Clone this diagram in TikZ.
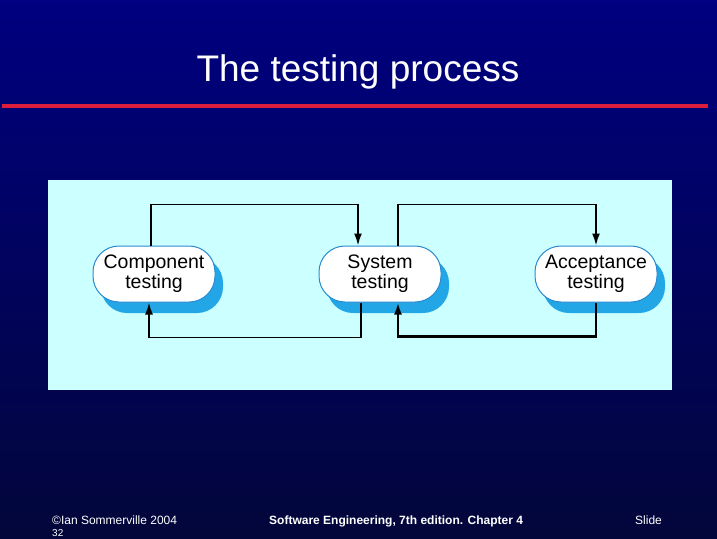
\documentclass[tikz,border=0pt]{standalone}
\usepackage{fontspec}
\setmainfont{Liberation Sans}
\usetikzlibrary{arrows.meta, positioning, shadows}
\definecolor{slideTop}{HTML}{000080}
\definecolor{slideBottom}{HTML}{02063A}
\definecolor{ruleRed}{HTML}{DC1E3C}
\definecolor{panelCyan}{HTML}{CCFFFF}
\definecolor{shadowBlue}{HTML}{22A6E6}
\definecolor{edgeBlue}{HTML}{2A8AD0}

\begin{document}
\begin{tikzpicture}[x=1pt, y=-1pt,
    stage/.style={draw=edgeBlue, line width=1pt, fill=white, rounded corners=26pt,
      minimum width=122pt, minimum height=56pt, inner sep=0pt, align=center,
      font=\fontsize{19.5}{20}\selectfont,
      drop shadow={fill=shadowBlue, opacity=1, shadow xshift=8pt, shadow yshift=-11pt}},
    flow/.style={line width=1.8pt, -{Latex[length=12pt, width=8pt]}},
    foot/.style={anchor=base west, inner sep=0pt, text=white, font=\fontsize{12}{13}\selectfont}]
  \useasboundingbox (0,0) rectangle (717,538);
  \shade[top color=slideTop, bottom color=slideBottom] (0,0) rectangle (717,538);
  % title
  \node[text=white, font=\fontsize{37}{40}\selectfont] (title) at (358,72) {The testing process};
  \draw[ruleRed, line width=4pt] (2,106) -- (708,106);
  \fill[panelCyan] (48,180) rectangle (672,390);
  % stages
  \node[stage] (comp) at (154,274) {Component\\testing};
  \node[stage] (sys) at (380,274) {System\\testing};
  \node[stage] (acc) at (596,274) {Acceptance\\testing};
  % forward
  \draw[flow] ([xshift=-3pt]comp.north) -- ++(0,-41) -| ([xshift=-22pt]sys.north);
  \draw[flow] ([xshift=18pt]sys.north) -- ++(0,-41) -| (acc.north);
  % back
  \draw[flow] ([xshift=-19pt]sys.south) -- ++(0,35) -| ([xshift=-5pt]comp.south);
  \draw[flow, line width=2.4pt] (acc.south) -- ++(0,34) -| ([xshift=18pt]sys.south);
  % footer
  \node[foot] (copy) at (52,524) {©Ian Sommerville 2004};
  \node[foot, font=\fontsize{10}{11}\selectfont] (page) at (52,536) {32};
  \node[foot, font=\bfseries\fontsize{12}{13}\selectfont] (book) at (269,524) {Software Engineering, 7th edition. Chapter 4};
  \node[foot] (slide) at (635,524) {Slide};
\end{tikzpicture}
\end{document}
